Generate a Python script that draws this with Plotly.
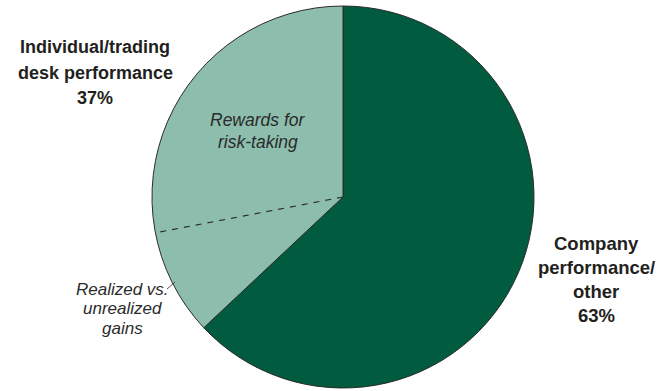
import math
import plotly.graph_objects as go

W, H = 670, 391

# Data
categories = ["Company performance/other", "Individual/trading desk performance"]
shares = [63, 37]
# Split of the individual/trading desk share
sub_categories = ["Rewards for risk-taking", "Realized vs. unrealized gains"]
sub_shares = [28, 9]

colors = ["#005b3f", "#8dbdad"]

# pie geometry in pixels
cx, cy, R = 343, 197, 191

def px(x):
    return x / W

def py(y):
    return 1 - y / H

fig = go.Figure()
fig.add_trace(go.Pie(
    labels=categories,
    values=shares,
    sort=False,
    direction="clockwise",
    rotation=0,
    marker=dict(colors=colors, line=dict(color="#2b2b2b", width=1)),
    textinfo="none",
    hoverinfo="none",
    showlegend=False,
    domain=dict(x=[px(cx - R), px(cx + R)], y=[py(cy + R), py(cy - R)]),
))

# dashed divider inside the light slice (counterclockwise from top)
ang = math.radians(sub_shares[0] / sum(shares) * 360)
ex = cx - R * math.sin(ang)
ey = cy - R * math.cos(ang)
fig.add_shape(type="line", xref="paper", yref="paper",
              x0=px(cx), y0=py(cy), x1=px(ex), y1=py(ey),
              line=dict(color="#2b2b2b", width=1.2, dash="6px,6px"))

# leader line for "Realized vs. unrealized gains"
fig.add_shape(type="line", xref="paper", yref="paper",
              x0=px(167), y0=py(289), x1=px(175), y1=py(282),
              line=dict(color="#2b2b2b", width=0.8))

def add_lines(lines, x, y0, dy, size, bold=False, italic=False, color="#231f20"):
    for i, t in enumerate(lines):
        txt = f"<b>{t}</b>" if bold else (f"<i>{t}</i>" if italic else t)
        fig.add_annotation(xref="paper", yref="paper", x=px(x), y=py(y0 + i * dy),
                           text=txt, showarrow=False, xanchor="center", yanchor="middle",
                           font=dict(family="Liberation Sans, Arial, sans-serif", size=size, color=color))

add_lines(["Individual/trading", "desk performance", f"{shares[1]}%"], 95, 47, 25.5, 18, bold=True)
add_lines(["Company", "performance/", "other", f"{shares[0]}%"], 596, 243, 24, 18.5, bold=True)
add_lines(["Rewards for", "risk-taking"], 258, 120, 22, 17.5, italic=True, color="#2b2b2b")
add_lines(["Realized vs.", "unrealized", "gains"], 122, 289, 19.5, 17, italic=True, color="#2b2b2b")

fig.update_layout(width=W, height=H, margin=dict(l=0, r=0, t=0, b=0),
                  paper_bgcolor="white", plot_bgcolor="white")
fig.write_html("out.html", config={"displayModeBar": False, "staticPlot": True},
               post_script="document.body.style.margin='0';document.body.style.overflow='hidden';")
